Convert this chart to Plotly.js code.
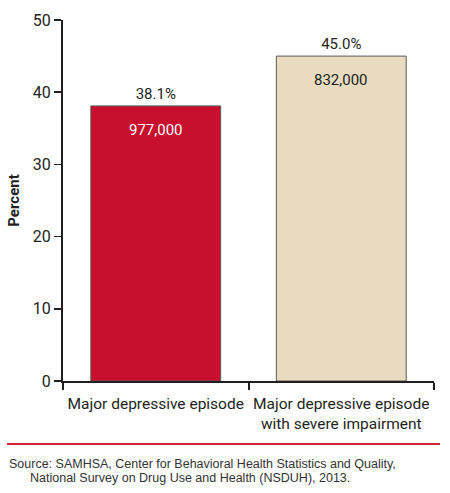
<!DOCTYPE html>
<html>
<head>
<meta charset="utf-8">
<script src="https://cdn.plot.ly/plotly-3.0.1.min.js"></script>
<style>
  body { margin: 0; background: #fff; }
  #chart { width: 450px; height: 493px; }
</style>
</head>
<body>
<div id="chart"></div>
<script>
var categories = ['Major depressive episode', 'Major depressive episode<br>with severe impairment'];
var percents = [38.1, 45.0];
var counts = ['977,000', '832,000'];
var barColors = ['#c8102e', '#e8dbc0'];
var countColors = ['#ffffff', '#231f20'];
var yTicks = [0, 10, 20, 30, 40, 50];

var narrow = 'Roboto, "Liberation Sans Narrow", sans-serif';

var data = [{
	x : categories,
	y : percents,
	type : 'bar',
	width : 0.7,
	marker : {
		color : barColors,
		line : { color : '#5a5a5a', width : 1 }
	},
	text : percents.map(function(v) { return v.toFixed(1) + '%'; }),
	textposition : 'outside',
	cliponaxis : false,
	textfont : { family : narrow, size : 15, color : '#231f20' },
	hoverinfo : 'none'
}];

var annotations = categories.map(function(c, i) {
	return {
		x : c,
		y : percents[i],
		yref : 'y',
		text : counts[i],
		showarrow : false,
		yanchor : 'top',
		yshift : -13,
		font : { family : narrow, size : 15, color : countColors[i] }
	};
});

annotations.push({
	xref : 'paper', yref : 'paper',
	x : -0.151, y : -0.23,
	xanchor : 'left', yanchor : 'middle',
	text : 'Source: SAMHSA, Center for Behavioral Health Statistics and Quality,',
	showarrow : false,
	font : { family : 'Liberation Sans, Arial, sans-serif', size : 12.5, color : '#333333' }
});
annotations.push({
	xref : 'paper', yref : 'paper',
	x : -0.094, y : -0.268,
	xanchor : 'left', yanchor : 'middle',
	text : 'National Survey on Drug Use and Health (NSDUH), 2013.',
	showarrow : false,
	font : { family : 'Liberation Sans, Arial, sans-serif', size : 12.5, color : '#333333' }
});

var layout = {
	width : 450,
	height : 493,
	margin : { l : 63, r : 16, t : 20, b : 112 },
	paper_bgcolor : '#ffffff',
	plot_bgcolor : '#ffffff',
	showlegend : false,
	xaxis : {
		type : 'category',
		showline : true,
		linecolor : '#231f20',
		linewidth : 2,
		ticks : 'outside',
		tickson : 'boundaries',
		ticklen : 7,
		tickwidth : 2,
		tickcolor : '#231f20',
		tickangle : 0,
		ticklabelstandoff : 7,
		showgrid : false,
		zeroline : false,
		tickfont : { family : narrow, size : 15.5, color : '#231f20' },
		fixedrange : true
	},
	yaxis : {
		range : [0, 50],
		tickvals : yTicks,
		showline : true,
		linecolor : '#231f20',
		linewidth : 2,
		ticks : 'outside',
		ticklen : 7,
		tickwidth : 1.5,
		tickcolor : '#231f20',
		showgrid : false,
		zeroline : false,
		tickfont : { family : narrow, size : 16, color : '#231f20' },
		title : {
			text : '<b>Percent</b>',
			font : { family : narrow, size : 15, color : '#231f20' },
			standoff : 10
		},
		fixedrange : true
	},
	shapes : [{
		type : 'line',
		xref : 'paper', yref : 'paper',
		x0 : -0.151, x1 : 1.016,
		y0 : -0.1745, y1 : -0.1745,
		line : { color : '#d2233c', width : 2 }
	}],
	annotations : annotations
};

Plotly.newPlot('chart', data, layout, { displayModeBar : false, staticPlot : true });
</script>
</body>
</html>
